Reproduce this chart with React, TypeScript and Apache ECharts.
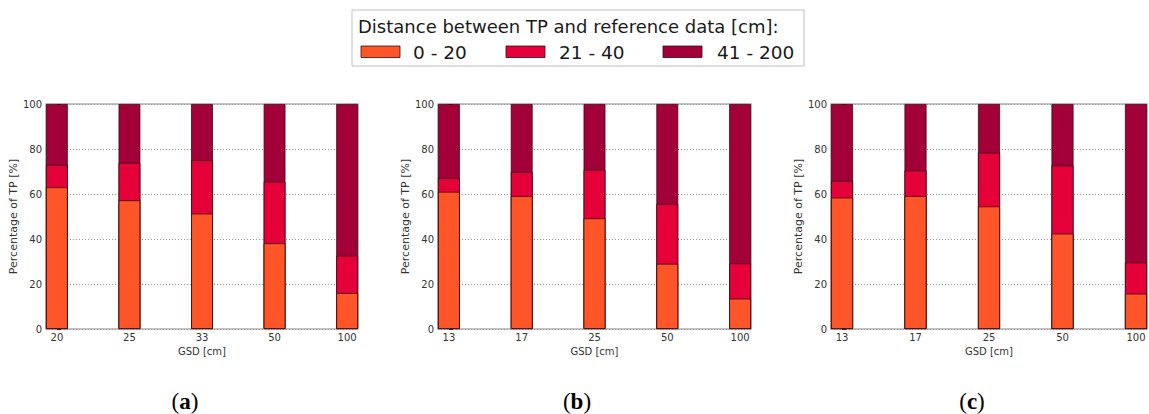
import React, { useEffect, useRef } from "react";
import * as echarts from "echarts";

const seriesNames = ["0 - 20", "21 - 40", "41 - 200"];
const seriesColors = ["#ff5529", "#e6003a", "#a3003a"];

const catsA = ["20", "25", "33", "50", "100"];
const catsB = ["13", "17", "25", "50", "100"];
const catsC = ["13", "17", "25", "50", "100"];

// segment shares [%] per GSD
const a020 = [63.0, 57.2, 51.3, 38.1, 16.0];
const a2140 = [10.0, 16.7, 23.8, 27.4, 16.6];
const a41200 = [27.0, 26.1, 24.9, 34.5, 67.4];

const b020 = [61.0, 59.1, 49.2, 29.0, 13.5];
const b2140 = [6.1, 10.7, 21.6, 26.6, 15.7];
const b41200 = [32.9, 30.2, 29.2, 44.4, 70.8];

const c020 = [58.4, 59.1, 54.5, 42.4, 15.7];
const c2140 = [7.5, 11.4, 23.9, 30.3, 13.9];
const c41200 = [34.1, 29.5, 21.6, 27.3, 70.4];

const yTicks = [0, 20, 40, 60, 80, 100];
const panelLabels = ["a", "b", "c"];
const legendTitle = "Distance between TP and reference data [cm]:";

const panels = [
  { cats: catsA, segs: [a020, a2140, a41200], left: 46, width: 312, cap: 185 },
  { cats: catsB, segs: [b020, b2140, b41200], left: 438, width: 313, cap: 577 },
  { cats: catsC, segs: [c020, c2140, c41200], left: 831, width: 316, cap: 972 },
];

const FONT = "DejaVu Sans";

export default function App() {
  const ref = useRef<HTMLDivElement>(null);
  useEffect(() => {
    const chart = echarts.init(ref.current!, null, { renderer: "svg" });
    const grids: any[] = [];
    const xAxes: any[] = [];
    const yAxes: any[] = [];
    const series: any[] = [];
    const graphics: any[] = [];

    panels.forEach((p, pi) => {
      grids.push({
        left: p.left,
        top: 104,
        width: p.width,
        height: 225,
        show: true,
        borderColor: "#b0b0b0",
        borderWidth: 1.5,
        backgroundColor: "transparent",
      });
      const idx = p.cats.map((_, i) => i);
      xAxes.push({
        type: "value",
        gridIndex: pi,
        min: -0.15,
        max: 4.15,
        name: "GSD [cm]",
        nameLocation: "middle",
        nameGap: 13,
        nameTextStyle: { fontFamily: FONT, fontSize: 10, color: "#333" },
        axisLine: { show: false },
        axisTick: {
          show: true,
          inside: true,
          length: 4,
          customValues: idx,
          lineStyle: { color: "#222", width: 1 },
        },
        splitLine: { show: false },
        axisLabel: {
          customValues: idx,
          formatter: (v: number) => p.cats[Math.round(v)] ?? "",
          fontFamily: FONT,
          fontSize: 10,
          color: "#333",
          margin: 3,
        },
      });
      yAxes.push({
        type: "value",
        gridIndex: pi,
        min: 0,
        max: 100,
        interval: 20,
        name: "Percentage of TP [%]",
        nameLocation: "middle",
        nameGap: 26,
        nameTextStyle: { fontFamily: FONT, fontSize: 11, color: "#333" },
        axisLine: { show: false },
        axisTick: {
          show: true,
          inside: true,
          length: 4,
          lineStyle: { color: "#222", width: 1 },
        },
        axisLabel: {
          fontFamily: FONT,
          fontSize: 10,
          color: "#333",
          margin: 4,
          formatter: (v: number) => (yTicks.includes(v) ? String(v) : ""),
        },
        splitLine: {
          show: true,
          lineStyle: { color: "#999", type: [1, 2], width: 1 },
        },
      });
      // cumulative tops so that overlapping bars form the stack
      const tops = p.segs.map((_, si) =>
        p.cats.map((__, ci) => {
          let s = 0;
          for (let k = 0; k <= si; k++) s += p.segs[k][ci];
          return s;
        })
      );
      const bw = (0.3 * p.width) / 4.3;
      for (let si = 2; si >= 0; si--) {
        series.push({
          type: "bar",
          name: seriesNames[si],
          xAxisIndex: pi,
          yAxisIndex: pi,
          barWidth: bw,
          barGap: "-100%",
          z: 2 + (2 - si),
          itemStyle: {
            color: seriesColors[si],
            borderColor: "#3a0a10",
            borderWidth: 0.8,
          },
          data: tops[si].map((v, ci) => [ci, Math.min(v, 100)]),
        });
      }
      graphics.push({
        type: "text",
        x: p.cap,
        y: 401,
        style: {
          text: "(" + "{b|" + panelLabels[pi] + "})",
          rich: {
            b: { fontFamily: "Liberation Serif", fontSize: 23, fontWeight: "bold", fill: "#000" },
          },
          fontFamily: "Liberation Serif",
          fontSize: 23,
          fill: "#000",
          align: "center",
          verticalAlign: "middle",
        },
      });
    });

    // legend box
    graphics.push({
      type: "rect",
      shape: { x: 352, y: 10, width: 452, height: 56 },
      style: { fill: "#fff", stroke: "#c0c0c0", lineWidth: 1 },
    });
    graphics.push({
      type: "text",
      x: 358,
      y: 26,
      style: {
        text: legendTitle,
        fontFamily: FONT,
        fontSize: 18,
        fill: "#1a1a1a",
        verticalAlign: "middle",
      },
    });
    const swX = [361, 506, 663];
    const lbX = [413, 559, 717];
    seriesNames.forEach((n, i) => {
      graphics.push({
        type: "rect",
        shape: { x: swX[i], y: 46, width: 39, height: 11.5 },
        style: { fill: seriesColors[i], stroke: "#3a0a10", lineWidth: 0.8 },
      });
      graphics.push({
        type: "text",
        x: lbX[i],
        y: 52,
        style: {
          text: n,
          fontFamily: FONT,
          fontSize: 18.5,
          fill: "#1a1a1a",
          verticalAlign: "middle",
        },
      });
    });

    chart.setOption({
      animation: false,
      backgroundColor: "#fff",
      grid: grids,
      xAxis: xAxes,
      yAxis: yAxes,
      series,
      graphic: graphics,
    });
    return () => chart.dispose();
  }, []);
  return (
    <div
      ref={ref}
      style={{ position: "fixed", left: 0, top: 0, width: 1149, height: 414 }}
    />
  );
}
